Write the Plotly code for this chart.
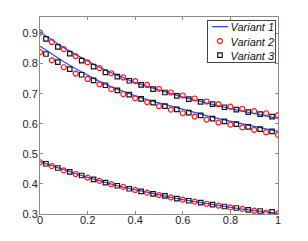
import plotly.graph_objects as go

# x positions
x_line = [0.0, 0.05, 0.1, 0.15, 0.2, 0.25, 0.3, 0.35, 0.4, 0.45, 0.5,
          0.55, 0.6, 0.65, 0.7, 0.75, 0.8, 0.85, 0.9, 0.95, 1.0]
x_circ = x_line
x_sq = [0.025, 0.075, 0.125, 0.175, 0.225, 0.275, 0.325, 0.375, 0.425, 0.475,
        0.525, 0.575, 0.625, 0.675, 0.725, 0.775, 0.825, 0.875, 0.925, 0.975]

# Variant 1 (lines)
v1_top = [0.905, 0.878, 0.853, 0.830, 0.808, 0.788, 0.769, 0.752, 0.737, 0.724, 0.712,
          0.700, 0.689, 0.679, 0.669, 0.659, 0.650, 0.642, 0.634, 0.626, 0.618]
v1_mid = [0.858, 0.831, 0.806, 0.783, 0.761, 0.741, 0.723, 0.707, 0.693, 0.680, 0.669,
          0.658, 0.647, 0.637, 0.627, 0.617, 0.608, 0.599, 0.591, 0.583, 0.575]
v1_bot = [0.474, 0.460, 0.446, 0.434, 0.422, 0.410, 0.399, 0.389, 0.380, 0.371, 0.363,
          0.355, 0.348, 0.341, 0.334, 0.328, 0.322, 0.316, 0.311, 0.306, 0.302]

# Variant 2 (circles)
v2_top = [0.903, 0.872, 0.848, 0.825, 0.804, 0.785, 0.768, 0.754, 0.742, 0.729, 0.716,
          0.704, 0.694, 0.684, 0.674, 0.665, 0.657, 0.650, 0.642, 0.635, 0.629]
v2_mid = [0.838, 0.811, 0.788, 0.767, 0.749, 0.731, 0.715, 0.699, 0.685, 0.672, 0.659,
          0.647, 0.635, 0.624, 0.614, 0.604, 0.597, 0.588, 0.580, 0.572, 0.563]
v2_bot = [0.472, 0.459, 0.445, 0.433, 0.421, 0.410, 0.399, 0.390, 0.380, 0.371, 0.363,
          0.355, 0.348, 0.341, 0.334, 0.328, 0.322, 0.317, 0.311, 0.305, 0.302]

# Variant 3 (squares)
v3_top = [0.882, 0.856, 0.833, 0.810, 0.790, 0.771, 0.757, 0.743, 0.729, 0.715,
          0.704, 0.693, 0.682, 0.673, 0.665, 0.655, 0.647, 0.639, 0.632, 0.624]
v3_mid = [0.832, 0.805, 0.782, 0.763, 0.744, 0.728, 0.711, 0.697, 0.683, 0.670,
          0.659, 0.648, 0.637, 0.628, 0.617, 0.608, 0.599, 0.590, 0.582, 0.575]
v3_bot = [0.467, 0.453, 0.440, 0.428, 0.415, 0.404, 0.394, 0.384, 0.375, 0.367,
          0.360, 0.351, 0.344, 0.338, 0.331, 0.325, 0.320, 0.314, 0.310, 0.307]

x_ticks = [0, 0.2, 0.4, 0.6, 0.8, 1]
x_tick_labels = ["0", "0.2", "0.4", "0.6", "0.8", "1"]
y_ticks = [0.3, 0.4, 0.5, 0.6, 0.7, 0.8, 0.9]
y_tick_labels = ["0.3", "0.4", "0.5", "0.6", "0.7", "0.8", "0.9"]

legend_names = ["Variant 1", "Variant 2", "Variant 3"]

LINE_COLOR = "rgb(45,75,255)"
CIRC_COLOR = "rgb(255,20,20)"
SQ_COLOR = "rgb(20,20,20)"
FONT = "Liberation Sans, Arial, Helvetica, sans-serif"

fig = go.Figure()

for y in [v1_top, v1_mid, v1_bot]:
    fig.add_trace(go.Scatter(x=x_line, y=y, mode="lines", name=legend_names[0],
                             line=dict(color=LINE_COLOR, width=1.3), showlegend=False))
for y in [v2_top, v2_mid, v2_bot]:
    fig.add_trace(go.Scatter(x=x_circ, y=y, mode="markers", name=legend_names[1],
                             marker=dict(symbol="circle-open", size=5,
                                         color=CIRC_COLOR, line=dict(width=1.2)),
                             showlegend=False))
for y in [v3_top, v3_mid, v3_bot]:
    fig.add_trace(go.Scatter(x=x_sq, y=y, mode="markers", name=legend_names[2],
                             marker=dict(symbol="square-open", size=4.5,
                                         color=SQ_COLOR, line=dict(width=1.2)),
                             showlegend=False))

# ---- compact MATLAB-style legend: samples on an overlay axis pair (0..1 spans
# the plot area) and one bordered, right-aligned multi-line italic annotation ----
lg_rows = [0.951, 0.878, 0.806]
fig.add_trace(go.Scatter(x=[0.723, 0.790], y=[lg_rows[0], lg_rows[0]], mode="lines",
                         xaxis="x2", yaxis="y2", showlegend=False, hoverinfo="skip",
                         line=dict(color=LINE_COLOR, width=1.3)))
fig.add_trace(go.Scatter(x=[0.756], y=[lg_rows[1]], mode="markers",
                         xaxis="x2", yaxis="y2", showlegend=False, hoverinfo="skip",
                         marker=dict(symbol="circle-open", size=5, color=CIRC_COLOR,
                                     line=dict(width=1.2))))
fig.add_trace(go.Scatter(x=[0.756], y=[lg_rows[2]], mode="markers",
                         xaxis="x2", yaxis="y2", showlegend=False, hoverinfo="skip",
                         marker=dict(symbol="square-open", size=4.5, color=SQ_COLOR,
                                     line=dict(width=1.2))))
fig.add_annotation(x=0.9916, y=0.9848, xref="paper", yref="paper",
                   xanchor="right", yanchor="top", showarrow=False,
                   text="<br>".join("<i>" + n + "</i>" for n in legend_names),
                   align="right", valign="middle", width=67, height=41,
                   borderpad=0, borderwidth=1, bordercolor="#444444",
                   bgcolor="rgba(255,255,255,0)",
                   font=dict(family=FONT, size=11, color="#111111"))

axis_common = dict(showline=True, linecolor="#8a8a8a", linewidth=1, mirror="ticks",
                   ticks="inside", ticklen=3, tickcolor="#8a8a8a", tickwidth=1,
                   showgrid=False, zeroline=False, automargin=False,
                   tickfont=dict(family=FONT, size=11, color="#222222"))

# the page body has an 8px default margin; size the figure to compensate
fig.update_layout(
    width=300, height=233,
    margin=dict(l=32, r=30, t=9, b=27, autoexpand=False),
    paper_bgcolor="white", plot_bgcolor="white",
    xaxis=dict(range=[0, 1], tickvals=x_ticks, ticktext=x_tick_labels,
               ticklabelstandoff=-4, **axis_common),
    yaxis=dict(range=[0.3, 0.955], tickvals=y_ticks, ticktext=y_tick_labels,
               ticklabelstandoff=-1, **axis_common),
    xaxis2=dict(range=[0, 1], overlaying="x", visible=False),
    yaxis2=dict(range=[0, 1], overlaying="y", visible=False),
    showlegend=False,
)

fig.write_html("out.html")
